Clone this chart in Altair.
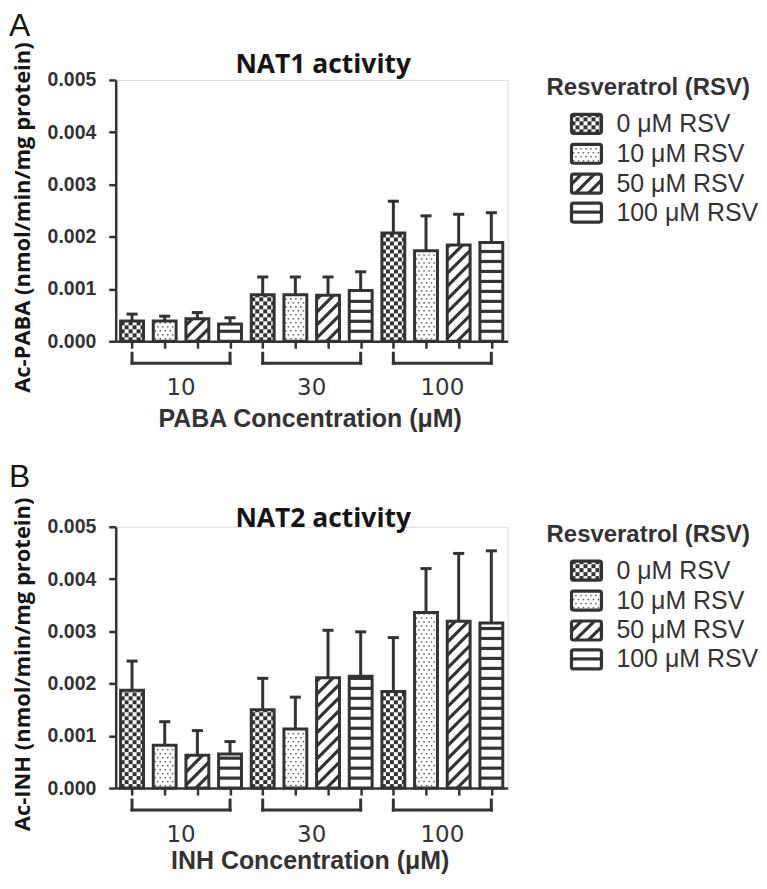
import math
import altair as alt
import pandas as pd
import numpy as np

# ---------------- data ----------------
concs = ["10", "30", "100"]
rsv_labels = ["0 μM RSV", "10 μM RSV", "50 μM RSV", "100 μM RSV"]
patterns = ["checker", "dots", "diag", "hstripe"]

# order: conc 10 (0,10,50,100 RSV), conc 30 (...), conc 100 (...)
nat1_mean = [0.00039, 0.00039, 0.00043, 0.00033,
             0.00089, 0.00089, 0.00088, 0.00097,
             0.00207, 0.00173, 0.00184, 0.00189]
nat1_hi = [0.00052, 0.00048, 0.00055, 0.00045,
           0.00123, 0.00123, 0.00123, 0.00133,
           0.00268, 0.00240, 0.00243, 0.00246]
nat2_mean = [0.00187, 0.00082, 0.00063, 0.00065,
             0.00150, 0.00113, 0.00211, 0.00214,
             0.00185, 0.00336, 0.00319, 0.00316]
nat2_hi = [0.00243, 0.00127, 0.00110, 0.00089,
           0.00210, 0.00174, 0.00302, 0.00299,
           0.00288, 0.00420, 0.00449, 0.00454]
y_ticks = [0.0, 0.001, 0.002, 0.003, 0.004, 0.005]

# ---------------- geometry / style ----------------
W, H = 393, 262
XMIN, XMAX = -0.5, 11.5
YMAX = 0.005
XS = W / (XMAX - XMIN)
YS = H / YMAX
HW = 0.35      # half bar width (slot units)
CAP = 0.17     # half error-cap width
DARK = "#333333"


def xd(px):
    return XMIN + px / XS


def yd(py):
    return (H - py) / YS


XSCALE = alt.Scale(domain=[XMIN, XMAX], nice=False, zero=False)
YSCALE = alt.Scale(domain=[0, YMAX], nice=False, zero=False)
XAXIS = alt.Axis(values=list(range(12)), labels=False, title=None, grid=False, tickSize=7,
                 tickWidth=2.5, tickColor=DARK, domainWidth=2.5, domainColor=DARK)
YAXIS = alt.Axis(values=y_ticks, format=".3f", title=None, grid=False, tickSize=7,
                 tickWidth=2.5, tickColor=DARK, domainWidth=2.5, domainColor=DARK,
                 labelFont="Liberation Sans", labelFontSize=19.5, labelFontWeight="bold",
                 labelColor=DARK, labelPadding=13)


def X(f="x"):
    return alt.X(f"{f}:Q", scale=XSCALE, axis=XAXIS)


def Y(f="y"):
    return alt.Y(f"{f}:Q", scale=YSCALE, axis=YAXIS)


def pattern_elements(kind, left, right, top, bottom, cells, dots, lines):
    w = right - left
    h = bottom - top
    if h <= 0:
        return
    if kind == "checker":
        c = 4.0
        rows = int(math.ceil(h / c))
        cols = int(math.ceil(w / c))
        for r in range(rows):
            for k in range(cols):
                if (r + k) % 2 == 0:
                    x0 = left + k * c
                    x1 = min(x0 + c, right)
                    y1 = bottom - r * c
                    y0 = max(y1 - c, top)
                    cells.append((xd(x0), xd(x1), yd(y0), yd(y1)))
    elif kind == "dots":
        r = 0
        py = bottom - 2.5
        while py > top + 1:
            off = 2.0 if r % 2 == 0 else 4.5
            px = left + off
            while px < right - 1:
                dots.append((xd(px), yd(py)))
                px += 5.0
            py -= 4.0
            r += 1
    elif kind == "diag":
        P = 13.0
        d = -w
        while d < h:
            u0 = max(0.0, -d)
            u1 = min(w, h - d)
            if u1 > u0:
                lines.append((xd(left + u0), xd(left + u1),
                              yd(bottom - (u0 + d)), yd(bottom - (u1 + d))))
            d += P
    elif kind == "hstripe":
        P = 10.0
        t = P
        while t < h - 2:
            lines.append((xd(left), xd(right), yd(bottom - t), yd(bottom - t)))
            t += P


def panel(mean, hi, title, ytitle, xtitle, letter, letter_y, title_base, xtitle_y):
    slots = list(range(12))
    bars = pd.DataFrame({
        "slot": slots, "mean": mean, "hi": hi,
        "conc": [c for c in concs for _ in rsv_labels],
        "rsv": rsv_labels * 3, "pattern": patterns * 3,
    })
    bars["x0"] = bars["slot"] - HW
    bars["x1"] = bars["slot"] + HW
    bars["c0"] = bars["slot"] - CAP
    bars["c1"] = bars["slot"] + CAP
    bars["zero"] = 0.0

    cells, dots, lines = [], [], []
    for _, r in bars.iterrows():
        left = (r["x0"] - XMIN) * XS
        right = (r["x1"] - XMIN) * XS
        top = H - r["mean"] * YS
        pattern_elements(r["pattern"], left, right, top, H, cells, dots, lines)

    # legend boxes (pixel layout relative to plot origin)
    leg_rows = [44, 74, 104, 133]
    leg_left, leg_right = 457, 487
    leg = []
    for yc, lab, pat in zip(leg_rows, rsv_labels, patterns):
        top, bottom = yc - 9.5, yc + 9.5
        pattern_elements(pat, leg_left, leg_right, top, bottom, cells, dots, lines)
        leg.append({"x": xd(leg_left), "x2": xd(leg_right), "y": yd(top), "y2": yd(bottom),
                    "tx": xd(502), "ty": yd(yc), "label": lab})
    leg = pd.DataFrame(leg)

    cells = pd.DataFrame(cells, columns=["x", "x2", "y", "y2"])
    dots = pd.DataFrame(dots, columns=["x", "y"])
    lines = pd.DataFrame(lines, columns=["x", "x2", "y", "y2"])

    base = alt.Chart(bars).mark_rect(fill="white").encode(
        x=X("x0"), x2="x1:Q", y=Y("zero"), y2="mean:Q")
    cell_layer = alt.Chart(cells).mark_rect(color=DARK).encode(
        x=X(), x2="x2:Q", y=Y(), y2="y2:Q")
    dot_layer = alt.Chart(dots).mark_square(size=2.4, color="#666666", opacity=1).encode(
        x=X(), y=Y())
    line_layer = alt.Chart(lines).mark_rule(color=DARK, strokeWidth=3.2).encode(
        x=X(), x2="x2:Q", y=Y(), y2="y2:Q")
    outline = alt.Chart(bars).mark_rect(fillOpacity=0, stroke=DARK, strokeWidth=3).encode(
        x=X("x0"), x2="x1:Q", y=Y("zero"), y2="mean:Q")
    err = alt.Chart(bars).mark_rule(color=DARK, strokeWidth=3).encode(
        x=X("slot"), y=Y("mean"), y2="hi:Q")
    cap = alt.Chart(bars).mark_rule(color=DARK, strokeWidth=3).encode(
        x=X("c0"), x2="c1:Q", y=Y("hi"))

    # group brackets and labels
    br = []
    yt, yb = yd(H + 12), yd(H + 22)
    for g in range(3):
        a, b = 4 * g, 4 * g + 3
        br.append((a, a, yt, yb))
        br.append((b, b, yt, yb))
        br.append((a, b, yb, yb))
    br = pd.DataFrame(br, columns=["x", "x2", "y", "y2"])
    brackets = alt.Chart(br).mark_rule(color=DARK, strokeWidth=3, strokeCap="square").encode(
        x=X(), x2="x2:Q", y=Y(), y2="y2:Q")
    glab = pd.DataFrame({"x": [1.5, 5.5, 9.5], "y": [yd(H + 47)] * 3, "t": concs})
    group_text = alt.Chart(glab).mark_text(
        font="DejaVu Sans", fontSize=23, color=DARK, baseline="middle", align="center"
    ).encode(x=X(), y=Y(), text="t:N")

    # legend
    leg_out = alt.Chart(leg).mark_rect(fillOpacity=0, stroke=DARK, strokeWidth=3.2,
                                       cornerRadius=2).encode(
        x=X(), x2="x2:Q", y=Y(), y2="y2:Q")
    leg_text = alt.Chart(leg).mark_text(
        font="Liberation Sans", fontSize=25, color=DARK, align="left", baseline="middle"
    ).encode(x=X("tx"), y=Y("ty"), text="label:N")

    def label(txt, px, py, **kw):
        df = pd.DataFrame({"x": [xd(px)], "y": [yd(py)], "t": [txt]})
        return alt.Chart(df).mark_text(**kw).encode(x=X(), y=Y(), text="t:N")

    leg_title = label("Resveratrol (RSV)", 432, 8, font="Liberation Sans", fontSize=24,
                      fontWeight="bold", color=DARK, align="left", baseline="middle")
    ttl = label(title, 208, title_base, font="Open Sans", fontSize=26.5, fontWeight="bold",
                color="#151515", align="center", baseline="alphabetic")
    xt = label(xtitle, 195, H + xtitle_y, font="Liberation Sans", fontSize=25,
               fontWeight="bold", color=DARK, align="center", baseline="middle")
    ytl = label(ytitle, -93, 138, font="Open Sans", fontSize=22, fontWeight="bold",
                color="#151515", align="center", baseline="middle", angle=270)
    let = label(letter, -107, letter_y, font="Liberation Sans", fontSize=32,
                color="#151515", align="left", baseline="middle")

    return alt.layer(
        base, cell_layer, dot_layer, line_layer, outline, err, cap,
        brackets, group_text, leg_out, leg_text, leg_title, ttl, xt, ytl, let
    ).properties(width=W, height=H)


pa = panel(nat1_mean, nat1_hi, "NAT1 activity", "Ac-PABA (nmol/min/mg protein)",
           "PABA Concentration (μM)", "A", -54, -7, 78)
pb = panel(nat2_mean, nat2_hi, "NAT2 activity", "Ac-INH (nmol/min/mg protein)",
           "INH Concentration (μM)", "B", -50, 0, 73)

chart = alt.vconcat(pa, pb, spacing=27).properties(
    padding={"left": 0, "top": 0, "right": 0, "bottom": 0}
).configure_view(strokeWidth=0, stroke="transparent").configure(background="white")

chart.save("out.html", embed_options={"renderer": "svg", "actions": False})
